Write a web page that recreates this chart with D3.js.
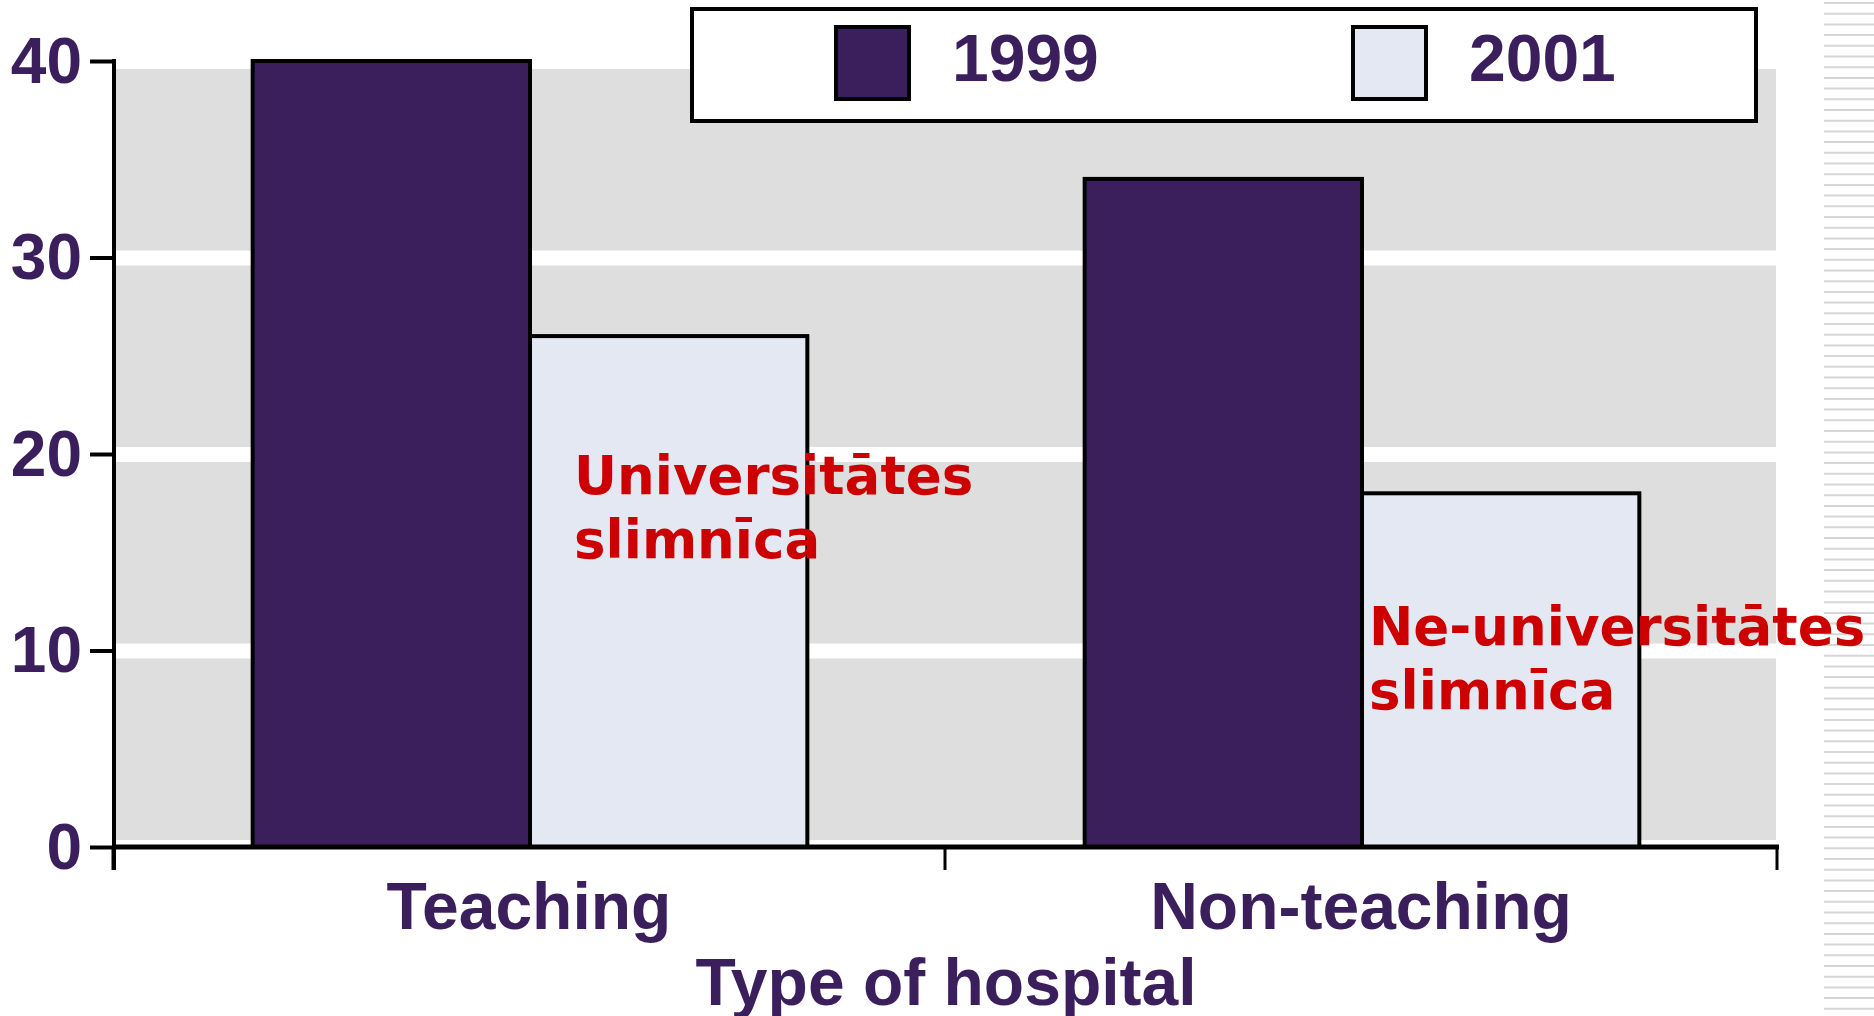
<!DOCTYPE html>
<html>
<head>
<meta charset="utf-8">
<script src="https://cdn.jsdelivr.net/npm/d3@7"></script>
<style>
html,body{margin:0;padding:0;background:#fff;overflow:hidden;}
svg{display:block;}
</style>
</head>
<body>
<script>
const categories = ["Teaching", "Non-teaching"];
const seriesNames = ["1999", "2001"];
const values1999 = [40, 34];
const values2001 = [26, 18];
const yTickValues = [0, 10, 20, 30, 40];
const xAxisTitle = "Type of hospital";
const annotations = [
  ["Universitātes", "slimnīca"],
  ["Ne-universitātes", "slimnīca"]
];

const W = 1874, H = 1016;
const purple = "#3B1F5C", light = "#E4E8F3", grey = "#DEDEDE", red = "#CC0000";
const font = "'Liberation Sans', Arial, sans-serif";

const svg = d3.select("body").append("svg").attr("width", W).attr("height", H);

// right-edge striped decoration
const stripes = d3.range(3, H, 10.7);
svg.append("g").selectAll("line").data(stripes).join("line")
  .attr("x1", 1824).attr("x2", W).attr("y1", d => d).attr("y2", d => d)
  .attr("stroke", "#d6d6d6").attr("stroke-width", 2);

const y = d3.scaleLinear().domain([0, 40]).range([847, 61]);
const x = d3.scaleBand().domain(categories).range([113, 1777]).paddingInner(0).paddingOuter(0);
const xs = d3.scaleBand().domain(seriesNames).range([0, x.bandwidth()]).paddingInner(0).paddingOuter(0.5);

// grey bands
const bands = d3.pairs(yTickValues);
svg.append("g").selectAll("rect").data(bands).join("rect")
  .attr("x", 116).attr("width", 1776 - 116)
  .attr("y", d => y(d[1]) + 8)
  .attr("height", d => (y(d[0]) - 7) - (y(d[1]) + 8))
  .attr("fill", grey);

// bars
const data = categories.map((c, i) => ({cat: c, vals: [values1999[i], values2001[i]]}));
const colors = d3.scaleOrdinal().domain(seriesNames).range([purple, light]);
const g = svg.append("g");
data.forEach(d => {
  seriesNames.forEach((s, j) => {
    g.append("rect")
      .attr("x", x(d.cat) + xs(s) + 1)
      .attr("y", y(d.vals[j]))
      .attr("width", xs.bandwidth())
      .attr("height", y(0) - y(d.vals[j]))
      .attr("fill", colors(s))
      .attr("stroke", "#000").attr("stroke-width", 4);
  });
});

// y axis
const yAxis = svg.append("g").attr("transform", "translate(113,0)")
  .call(d3.axisLeft(y).tickValues(yTickValues).tickSize(23).tickPadding(8).tickSizeOuter(0));
yAxis.select(".domain").remove();
yAxis.selectAll(".tick line").attr("stroke", "#000").attr("stroke-width", 4);
yAxis.selectAll(".tick text").attr("fill", purple).attr("font-family", font)
  .attr("font-weight", "bold").attr("font-size", 64).attr("dy", "0.33em").attr("x", -31);
svg.append("line").attr("x1", 114).attr("x2", 114).attr("y1", 59).attr("y2", 870)
  .attr("stroke", "#000").attr("stroke-width", 4);

// x axis
svg.append("line").attr("x1", 112).attr("x2", 1779).attr("y1", 847).attr("y2", 847)
  .attr("stroke", "#000").attr("stroke-width", 5);
const xTickPos = [113, 113 + x.bandwidth(), 113 + 2 * x.bandwidth()];
svg.append("g").selectAll("line").data(xTickPos).join("line")
  .attr("x1", d => d).attr("x2", d => d).attr("y1", 847).attr("y2", 870)
  .attr("stroke", "#000").attr("stroke-width", 3);
svg.append("g").selectAll("text").data(categories).join("text")
  .attr("x", d => x(d) + x.bandwidth() / 2).attr("y", 929)
  .attr("text-anchor", "middle").attr("fill", purple)
  .attr("font-family", font).attr("font-weight", "bold").attr("font-size", 66)
  .text(d => d);
svg.append("text").attr("x", 946).attr("y", 1005).attr("text-anchor", "middle")
  .attr("fill", purple).attr("font-family", font).attr("font-weight", "bold").attr("font-size", 66)
  .text(xAxisTitle);

// legend
svg.append("rect").attr("x", 692).attr("y", 9).attr("width", 1064).attr("height", 112)
  .attr("fill", "#fff").attr("stroke", "#000").attr("stroke-width", 4);
const legX = [836, 1353];
seriesNames.forEach((s, i) => {
  svg.append("rect").attr("x", legX[i]).attr("y", 27).attr("width", 73).attr("height", 72)
    .attr("fill", colors(s)).attr("stroke", "#000").attr("stroke-width", 4);
  svg.append("text").attr("x", legX[i] + 116).attr("y", 81)
    .attr("fill", purple).attr("font-family", font).attr("font-weight", "bold").attr("font-size", 66)
    .text(s);
});

// red annotations
const annX = [574, 1369];
const annY = [494, 645];
annotations.forEach((lines, i) => {
  lines.forEach((t, k) => {
    svg.append("text").attr("x", annX[i]).attr("y", annY[i] + k * 64)
      .attr("fill", red).attr("font-family", "'DejaVu Sans', Verdana, sans-serif")
      .attr("font-weight", "bold").attr("font-size", 53).text(t);
  });
});
</script>
</body>
</html>
